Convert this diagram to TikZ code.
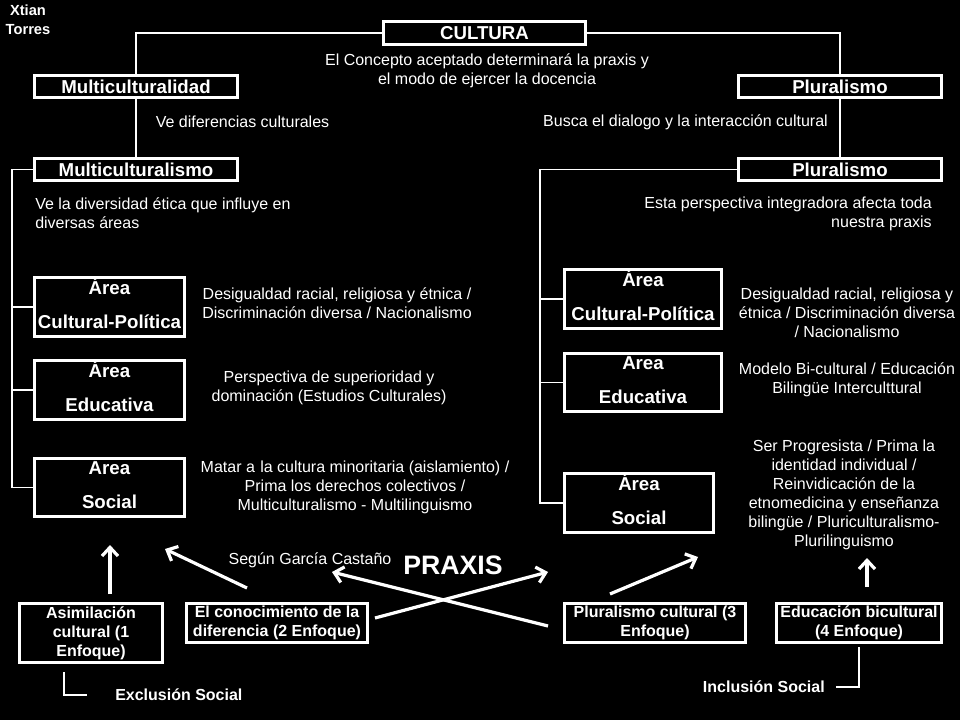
\documentclass[tikz,border=0pt]{standalone}
\usepackage{fontspec}
\setmainfont{Liberation Sans}
\usetikzlibrary{arrows.meta}
\newcommand{\dropfix}{\rule[-6pt]{0pt}{0pt}}
\begin{document}
\begin{tikzpicture}[x=0.75pt,y=-0.75pt,
  box/.style={draw=white,line width=2.25pt,fill=black,text=white,inner sep=0pt,align=center},
  ttl/.style={box,font=\fontsize{14}{16}\bfseries\selectfont},
  area/.style={box,font=\fontsize{14}{25.5}\bfseries\selectfont},
  enf/.style={box,font=\fontsize{12}{14.25}\bfseries\selectfont},
  txt/.style={text=white,inner sep=0pt,align=center,font=\fontsize{12}{14.25}\selectfont},
  btxt/.style={text=white,inner sep=0pt,align=center,font=\fontsize{12}{14.25}\bfseries\selectfont},
  conn/.style={draw=white,line width=0.9pt},
  arr/.style={draw=white,line width=2.4pt,-{Straight Barb[length=6.5pt,width=12pt]}},
  lshape/.style={draw=white,line width=2pt}
]
\fill[black] (0,0) rectangle (960,720);
\useasboundingbox (0,0) rectangle (960,720);

% title boxes
\node[ttl,minimum width=151.5pt,minimum height=17.25pt] (cultura) at (484.5,33) {CULTURA};
\node[ttl,minimum width=152.25pt,minimum height=16.5pt] (multidad) at (136,86.5) {Multiculturalidad};
\node[ttl,minimum width=152.25pt,minimum height=16.5pt] (plur1) at (840,86.5) {Pluralismo};
\node[ttl,minimum width=152.25pt,minimum height=16.5pt] (multismo) at (136,169.5) {Multiculturalismo};
\node[ttl,minimum width=152.25pt,minimum height=16.5pt] (plur2) at (840,169.5) {Pluralismo};

% area boxes left
\node[area,minimum width=112.5pt,minimum height=42.75pt] (lcp) at (109.5,307) {Área\\Cultural-Política\dropfix};
\node[area,minimum width=112.5pt,minimum height=41.25pt] (led) at (109.5,390) {Área\\Educativa\dropfix};
\node[area,minimum width=112.5pt,minimum height=42pt] (lso) at (109.5,487.5) {Área\\Social\dropfix};

% area boxes right
\node[area,minimum width=117.75pt,minimum height=42.75pt] (rcp) at (643,299) {Área\\Cultural-Política\dropfix};
\node[area,minimum width=117.75pt,minimum height=42pt] (red) at (643,382.5) {Área\\Educativa\dropfix};
\node[area,minimum width=111.75pt,minimum height=42.75pt] (rso) at (639,503) {Área\\Social\dropfix};

% enfoque boxes
\node[enf,minimum width=107.25pt,minimum height=44.25pt] (asim) at (91,633) {Asimilación\\cultural (1\\Enfoque)};
\node[enf,minimum width=135.75pt,minimum height=29.25pt] (cono) at (277,623) {El conocimiento de la\\diferencia (2 Enfoque)};
\node[enf,minimum width=135.75pt,minimum height=29.25pt] (pcult) at (655,623) {Pluralismo cultural (3\\Enfoque)};
\node[enf,minimum width=123.75pt,minimum height=29.25pt] (edbi) at (859,623) {Educación bicultural\\(4 Enfoque)};

% tree connectors
\draw[conn] (cultura.west) -| (multidad.north);
\draw[conn] (cultura.east) -| (plur1.north);
\draw[conn] (multidad.south) -- (multismo.north);
\draw[conn] (plur1.south) -- (plur2.north);
\coordinate (lspine) at (12,0);
\coordinate (rspine) at (540,0);
\draw[conn] (multismo.west) -| (lspine |- lso.west) -- (lso.west);
\draw[conn] (lcp.west) -- (lcp.west -| lspine);
\draw[conn] (led.west) -- (led.west -| lspine);
\draw[conn] (plur2.west) -| (rspine |- rso.west) -- (rso.west);
\draw[conn] (rcp.west) -- (rcp.west -| rspine);
\draw[conn] (red.west) -- (red.west -| rspine);

% texts
\node[btxt,font=\fontsize{11}{14.25}\bfseries\selectfont] (autor) at (28,19.5) {Xtian\\Torres};
\node[txt] (concepto) at (487,70.5) {El Concepto aceptado determinará la praxis y\\el modo de ejercer la docencia};
\node[txt] (vedif) at (242.5,122) {Ve diferencias culturales};
\node[txt] (busca) at (685.5,122) {Busca el dialogo y la interacción cultural};
\node[txt,align=left,anchor=west] (vela) at (35,213.5) {Ve la diversidad ética que influye en\\diversas áreas};
\node[txt,align=right,anchor=east] (esta) at (932,213.5) {Esta perspectiva integradora afecta toda\\nuestra praxis};

\node[txt] (tlcp) at (337,303.5) {Desigualdad racial, religiosa y étnica /\\Discriminación diversa / Nacionalismo};
\node[txt] (tled) at (329,387.5) {Perspectiva de superioridad y\\dominación (Estudios Culturales)};
\node[txt] (tlso) at (355,487) {Matar a\,\,la cultura minoritaria (aislamiento) /\\Prima los derechos colectivos /\\Multiculturalismo - Multilinguismo};

\node[txt] (trcp) at (847,313) {Desigualdad racial, religiosa y\\étnica / Discriminación diversa\\/ Nacionalismo};
\node[txt] (tred) at (847,379.5) {Modelo Bi-cultural / Educación\\Bilingüe Interculttural};
\node[txt] (trso) at (844,494.5) {Ser Progresista / Prima la\\identidad individual /\\Reinvidicación de la\\etnomedicina y enseñanza\\bilingüe / Pluriculturalismo-\\Plurilinguismo};

\node[txt] (segun) at (310,560) {Según García Castaño};
\node[btxt,font=\fontsize{20}{24}\bfseries\selectfont] (praxis) at (453,565) {PRAXIS};
\node[btxt,anchor=west] (exclu) at (115,695) {Exclusión Social};
\node[btxt,anchor=east] (inclu) at (825,687) {Inclusión Social};

% arrows
\coordinate (a1s) at (110,594); \coordinate (a1e) at (110,545);
\coordinate (a2s) at (247,588); \coordinate (a2e) at (165,549);
\coordinate (a3s) at (375,618); \coordinate (a3e) at (548,572);
\coordinate (a4s) at (548,626); \coordinate (a4e) at (332,572);
\coordinate (a5s) at (610,594); \coordinate (a5e) at (698,557);
\coordinate (a6s) at (867,587); \coordinate (a6e) at (867,558);
\draw[arr] (a1s) -- (a1e);
\draw[arr] (a2s) -- (a2e);
\draw[arr] (a3s) -- (a3e);
\draw[arr] (a4s) -- (a4e);
\draw[arr] (a5s) -- (a5e);
\draw[arr] (a6s) -- (a6e);

% L shapes
\coordinate (ex1) at (64,672); \coordinate (ex2) at (87,695);
\draw[lshape] (ex1) |- (ex2);
\coordinate (in1) at (859,647); \coordinate (in2) at (836,687);
\draw[lshape] (in1) |- (in2);
\end{tikzpicture}
\end{document}
